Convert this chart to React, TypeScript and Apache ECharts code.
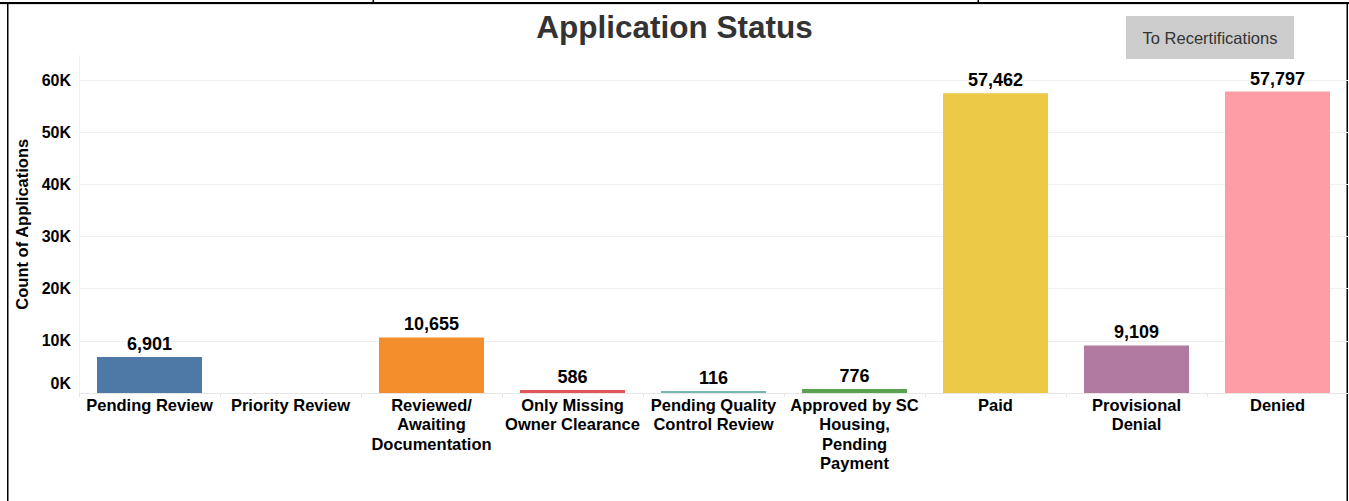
import React, { useEffect, useRef } from "react";
import * as echarts from "echarts";

const categories = [
  "Pending Review",
  "Priority Review",
  "Reviewed/\nAwaiting\nDocumentation",
  "Only Missing\nOwner Clearance",
  "Pending Quality\nControl Review",
  "Approved by SC\nHousing,\nPending\nPayment",
  "Paid",
  "Provisional\nDenial",
  "Denied",
];
const values: (number | null)[] = [6901, null, 10655, 586, 116, 776, 57462, 9109, 57797];
const colors = ["#4e79a7", "#bab0ac", "#f28e2b", "#e15759", "#76b7b2", "#59a14f", "#edc948", "#b07aa1", "#ff9da7"];
const yTickValues = [0, 10000, 20000, 30000, 40000, 50000, 60000];

const FONT = "'Liberation Sans', Arial, sans-serif";

export default function App() {
  const ref = useRef<HTMLDivElement>(null);
  useEffect(() => {
    if (!ref.current) return;
    const chart = echarts.init(ref.current, null, { renderer: "svg" });
    chart.setOption({
      animation: false,
      backgroundColor: "#ffffff",
      textStyle: { fontFamily: FONT },
      title: {
        text: "Application Status",
        left: "center",
        top: 6,
        textStyle: { fontFamily: FONT, fontSize: 31.5, fontWeight: "bold", color: "#333333" },
      },
      grid: { left: 79, right: 1, top: 55.5, bottom: 108, containLabel: false },
      xAxis: {
        type: "category",
        data: categories,
        axisLine: { show: true, lineStyle: { color: "#e6e6e6", width: 1 } },
        axisTick: { show: true, alignWithLabel: false, length: 4, lineStyle: { color: "#e6e6e6" } },
        axisLabel: {
          interval: 0,
          margin: 2,
          color: "#000000",
          fontFamily: FONT,
          fontSize: 16.5,
          fontWeight: "bold",
          lineHeight: 19.5,
          align: "center",
        },
      },
      yAxis: {
        type: "value",
        min: 0,
        max: 64700,
        interval: 10000,
        name: "Count of Applications",
        nameLocation: "middle",
        nameGap: 43,
        nameTextStyle: { fontFamily: FONT, fontSize: 16.5, fontWeight: "bold", color: "#000000" },
        axisLine: { show: true, lineStyle: { color: "#f0f0f0" } },
        axisTick: { show: false },
        splitLine: { show: true, showMaxLine: false, lineStyle: { color: "#f0f0f0" } },
        axisLabel: {
          showMaxLabel: false,
          margin: 8,
          color: "#000000",
          fontFamily: FONT,
          fontSize: 16,
          fontWeight: "bold",
          formatter: (v: number) =>
            v === 0 ? "{z|0K}" : yTickValues.includes(v) ? `${v / 1000}K` : "",
          rich: {
            z: {
              fontFamily: FONT,
              fontSize: 16,
              fontWeight: "bold",
              color: "#000000",
              padding: [0, 0, 20, 0],
            },
          },
        },
      },
      series: [
        {
          type: "bar",
          data: values.map((v, i) => ({ value: v, itemStyle: { color: colors[i] } })),
          barWidth: 105,
          barMinHeight: 2,
          label: {
            show: true,
            position: "top",
            distance: 4,
            color: "#000000",
            fontFamily: FONT,
            fontSize: 18,
            fontWeight: "bold",
            formatter: (p: any) => (p.value == null ? "" : Number(p.value).toLocaleString("en-US")),
          },
        },
      ],
      graphic: [
        { type: "rect", shape: { x: 0, y: 2, width: 1349, height: 2 }, style: { fill: "#000000" }, silent: true },
        { type: "rect", shape: { x: 0, y: 4, width: 1349, height: 1 }, style: { fill: "#e0e0e0" }, silent: true },
        { type: "rect", shape: { x: 7, y: 2, width: 1.5, height: 499 }, style: { fill: "#000000" }, silent: true },
        { type: "rect", shape: { x: 1346.5, y: 2, width: 1.5, height: 499 }, style: { fill: "#000000" }, silent: true },
        { type: "rect", shape: { x: 372.5, y: 0, width: 1.5, height: 3 }, style: { fill: "#000000" }, silent: true },
        { type: "rect", shape: { x: 977.5, y: 0, width: 1.5, height: 3 }, style: { fill: "#000000" }, silent: true },
        {
          type: "group",
          left: 1126,
          top: 16,
          children: [
            { type: "rect", shape: { x: 0, y: 0, width: 168, height: 43 }, style: { fill: "#cccccc" } },
            {
              type: "text",
              x: 84,
              y: 21.5,
              style: {
                text: "To Recertifications",
                fontFamily: FONT,
                fontSize: 16.5,
                fill: "#333333",
                align: "center",
                verticalAlign: "middle",
              },
            },
          ],
        },
      ],
    });
    return () => chart.dispose();
  }, []);
  return (
    <div style={{ position: "absolute", left: 0, top: 0, width: 1349, height: 501, background: "#fff" }}>
      <div ref={ref} style={{ width: 1349, height: 501 }} />
    </div>
  );
}
